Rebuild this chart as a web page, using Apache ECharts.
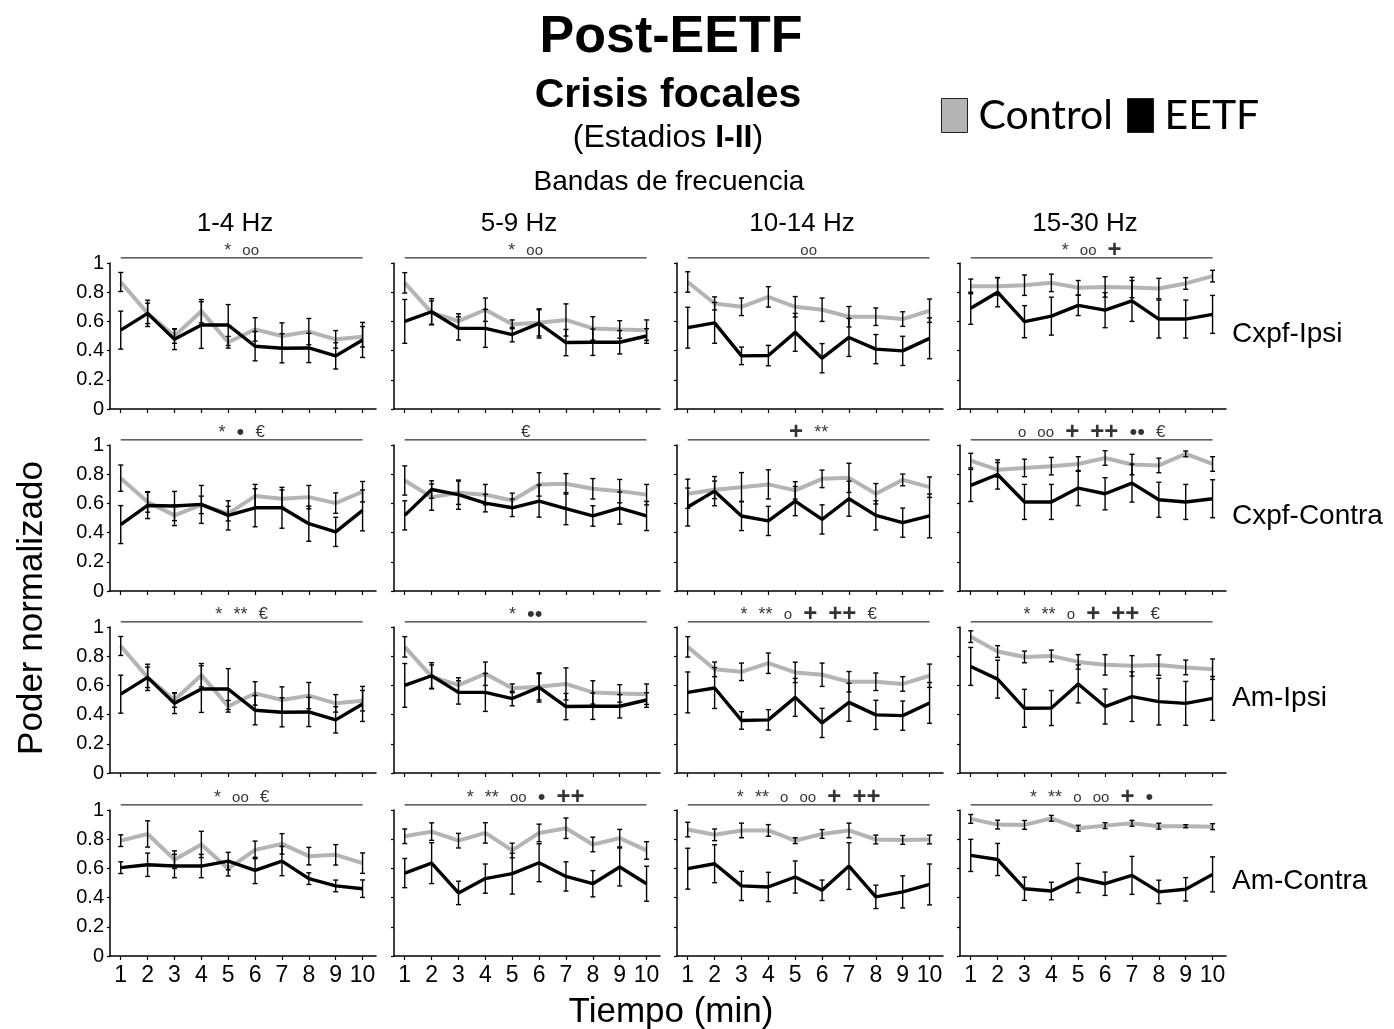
<!DOCTYPE html>
<html>
<head>
<meta charset="utf-8">
<script src="https://cdn.jsdelivr.net/npm/echarts@6/dist/echarts.min.js"></script>
<style>
  html, body { margin: 0; padding: 0; background: #fff; }
  #chart { width: 1394px; height: 1029px; }
</style>
</head>
<body>
<div id="chart"></div>
<script>
// ---- categories ----
const minutes = [1, 2, 3, 4, 5, 6, 7, 8, 9, 10];
const bands = ['1-4 Hz', '5-9 Hz', '10-14 Hz', '15-30 Hz'];
const regions = ['Cxpf-Ipsi', 'Cxpf-Contra', 'Am-Ipsi', 'Am-Contra'];

// ---- Cxpf-Ipsi (mean and SEM per band) ----
const cxIpsi1Ctl = [0.87, 0.655, 0.50, 0.67, 0.457, 0.545, 0.50, 0.53, 0.477, 0.495];
const cxIpsi1CtlSem = [0.065, 0.07, 0.05, 0.08, 0.04, 0.08, 0.09, 0.09, 0.06, 0.07];
const cxIpsi1Eetf = [0.54, 0.655, 0.477, 0.575, 0.575, 0.43, 0.416, 0.418, 0.364, 0.473];
const cxIpsi1EetfSem = [0.13, 0.09, 0.07, 0.16, 0.14, 0.10, 0.10, 0.10, 0.09, 0.12];

const cxIpsi2Ctl = [0.864, 0.66, 0.602, 0.68, 0.58, 0.59, 0.61, 0.552, 0.545, 0.54];
const cxIpsi2CtlSem = [0.07, 0.08, 0.05, 0.08, 0.03, 0.09, 0.11, 0.08, 0.06, 0.07];
const cxIpsi2Eetf = [0.60, 0.666, 0.552, 0.552, 0.51, 0.586, 0.455, 0.457, 0.457, 0.50];
const cxIpsi2EetfSem = [0.15, 0.09, 0.08, 0.13, 0.05, 0.10, 0.09, 0.09, 0.08, 0.05];

const cxIpsi3Ctl = [0.87, 0.723, 0.70, 0.768, 0.70, 0.68, 0.632, 0.632, 0.616, 0.673];
const cxIpsi3CtlSem = [0.07, 0.045, 0.06, 0.07, 0.07, 0.08, 0.07, 0.06, 0.05, 0.08];
const cxIpsi3Eetf = [0.557, 0.59, 0.364, 0.366, 0.525, 0.348, 0.49, 0.41, 0.398, 0.484];
const cxIpsi3EetfSem = [0.14, 0.14, 0.06, 0.07, 0.13, 0.10, 0.13, 0.10, 0.10, 0.14];

const cxIpsi4Ctl = [0.84, 0.84, 0.848, 0.864, 0.83, 0.836, 0.832, 0.825, 0.86, 0.91];
const cxIpsi4CtlSem = [0.05, 0.06, 0.07, 0.06, 0.05, 0.07, 0.07, 0.07, 0.04, 0.04];
const cxIpsi4Eetf = [0.69, 0.80, 0.598, 0.636, 0.71, 0.677, 0.74, 0.616, 0.616, 0.648];
const cxIpsi4EetfSem = [0.11, 0.10, 0.11, 0.13, 0.07, 0.12, 0.14, 0.13, 0.13, 0.13];

// ---- Cxpf-Contra ----
const cxContra1Ctl = [0.773, 0.61, 0.518, 0.59, 0.53, 0.65, 0.632, 0.643, 0.602, 0.68];
const cxContra1CtlSem = [0.09, 0.07, 0.07, 0.06, 0.05, 0.08, 0.06, 0.08, 0.07, 0.07];
const cxContra1Eetf = [0.455, 0.586, 0.582, 0.593, 0.518, 0.57, 0.57, 0.461, 0.405, 0.552];
const cxContra1EetfSem = [0.13, 0.09, 0.10, 0.13, 0.10, 0.13, 0.14, 0.12, 0.10, 0.14];

const cxContra2Ctl = [0.757, 0.643, 0.673, 0.66, 0.62, 0.73, 0.734, 0.70, 0.684, 0.66];
const cxContra2CtlSem = [0.10, 0.09, 0.08, 0.07, 0.05, 0.08, 0.07, 0.07, 0.08, 0.07];
const cxContra2Eetf = [0.518, 0.695, 0.66, 0.602, 0.57, 0.616, 0.564, 0.514, 0.568, 0.514];
const cxContra2EetfSem = [0.10, 0.06, 0.10, 0.06, 0.06, 0.11, 0.11, 0.07, 0.11, 0.10];

const cxContra3Ctl = [0.666, 0.693, 0.711, 0.73, 0.689, 0.768, 0.775, 0.666, 0.761, 0.711];
const cxContra3CtlSem = [0.10, 0.06, 0.10, 0.10, 0.06, 0.06, 0.10, 0.07, 0.04, 0.07];
const cxContra3Eetf = [0.575, 0.684, 0.514, 0.48, 0.616, 0.49, 0.632, 0.518, 0.468, 0.514];
const cxContra3EetfSem = [0.13, 0.10, 0.10, 0.10, 0.10, 0.10, 0.12, 0.10, 0.10, 0.15];

const cxContra4Ctl = [0.893, 0.83, 0.843, 0.855, 0.87, 0.911, 0.866, 0.86, 0.939, 0.87];
const cxContra4CtlSem = [0.05, 0.05, 0.06, 0.06, 0.05, 0.05, 0.07, 0.05, 0.02, 0.05];
const cxContra4Eetf = [0.723, 0.798, 0.61, 0.61, 0.705, 0.666, 0.739, 0.625, 0.61, 0.632];
const cxContra4EetfSem = [0.11, 0.10, 0.12, 0.12, 0.12, 0.11, 0.13, 0.12, 0.12, 0.13];

// ---- Am-Ipsi ----
const amIpsi1Ctl = [0.87, 0.655, 0.50, 0.67, 0.457, 0.545, 0.50, 0.53, 0.477, 0.495];
const amIpsi1CtlSem = [0.065, 0.07, 0.05, 0.08, 0.04, 0.08, 0.09, 0.09, 0.06, 0.07];
const amIpsi1Eetf = [0.54, 0.655, 0.477, 0.575, 0.575, 0.43, 0.416, 0.418, 0.364, 0.473];
const amIpsi1EetfSem = [0.13, 0.09, 0.07, 0.16, 0.14, 0.10, 0.10, 0.10, 0.09, 0.12];

const amIpsi2Ctl = [0.864, 0.66, 0.602, 0.68, 0.58, 0.59, 0.61, 0.552, 0.545, 0.54];
const amIpsi2CtlSem = [0.07, 0.08, 0.05, 0.08, 0.03, 0.09, 0.11, 0.08, 0.06, 0.07];
const amIpsi2Eetf = [0.60, 0.666, 0.552, 0.552, 0.51, 0.586, 0.455, 0.457, 0.457, 0.50];
const amIpsi2EetfSem = [0.15, 0.09, 0.08, 0.13, 0.05, 0.10, 0.09, 0.09, 0.08, 0.05];

const amIpsi3Ctl = [0.864, 0.71, 0.693, 0.752, 0.689, 0.673, 0.625, 0.625, 0.61, 0.666];
const amIpsi3CtlSem = [0.07, 0.05, 0.06, 0.07, 0.07, 0.08, 0.07, 0.06, 0.05, 0.08];
const amIpsi3Eetf = [0.552, 0.582, 0.36, 0.364, 0.518, 0.343, 0.484, 0.398, 0.393, 0.48];
const amIpsi3EetfSem = [0.14, 0.14, 0.06, 0.07, 0.13, 0.10, 0.13, 0.10, 0.10, 0.14];

const amIpsi4Ctl = [0.934, 0.832, 0.795, 0.802, 0.761, 0.741, 0.734, 0.739, 0.723, 0.711];
const amIpsi4CtlSem = [0.04, 0.04, 0.04, 0.04, 0.05, 0.07, 0.07, 0.07, 0.05, 0.07];
const amIpsi4Eetf = [0.73, 0.643, 0.443, 0.445, 0.61, 0.455, 0.523, 0.489, 0.477, 0.511];
const amIpsi4EetfSem = [0.13, 0.13, 0.13, 0.12, 0.13, 0.12, 0.17, 0.16, 0.15, 0.15];

// ---- Am-Contra ----
const amContra1Ctl = [0.79, 0.836, 0.66, 0.764, 0.598, 0.727, 0.768, 0.684, 0.693, 0.636];
const amContra1CtlSem = [0.04, 0.09, 0.06, 0.09, 0.05, 0.06, 0.07, 0.06, 0.07, 0.07];
const amContra1Eetf = [0.605, 0.625, 0.616, 0.616, 0.65, 0.586, 0.65, 0.53, 0.48, 0.461];
const amContra1EetfSem = [0.04, 0.08, 0.08, 0.08, 0.06, 0.09, 0.10, 0.04, 0.04, 0.06];

const amContra2Ctl = [0.82, 0.852, 0.79, 0.843, 0.723, 0.843, 0.875, 0.764, 0.807, 0.723];
const amContra2CtlSem = [0.05, 0.06, 0.05, 0.07, 0.05, 0.06, 0.07, 0.05, 0.06, 0.06];
const amContra2Eetf = [0.568, 0.636, 0.432, 0.53, 0.564, 0.639, 0.545, 0.495, 0.61, 0.495];
const amContra2EetfSem = [0.10, 0.14, 0.08, 0.10, 0.14, 0.13, 0.10, 0.09, 0.13, 0.12];

const amContra3Ctl = [0.866, 0.83, 0.86, 0.86, 0.79, 0.836, 0.86, 0.798, 0.795, 0.798];
const amContra3CtlSem = [0.05, 0.04, 0.05, 0.04, 0.02, 0.03, 0.05, 0.03, 0.03, 0.03];
const amContra3Eetf = [0.598, 0.632, 0.48, 0.473, 0.541, 0.45, 0.616, 0.405, 0.439, 0.49];
const amContra3EetfSem = [0.14, 0.13, 0.10, 0.10, 0.11, 0.07, 0.16, 0.08, 0.11, 0.14];

const amContra4Ctl = [0.939, 0.90, 0.898, 0.943, 0.875, 0.893, 0.909, 0.889, 0.889, 0.886];
const amContra4CtlSem = [0.03, 0.03, 0.03, 0.02, 0.02, 0.02, 0.02, 0.02, 0.01, 0.02];
const amContra4Eetf = [0.689, 0.661, 0.461, 0.445, 0.534, 0.495, 0.552, 0.439, 0.457, 0.559];
const amContra4EetfSem = [0.11, 0.11, 0.08, 0.06, 0.10, 0.08, 0.13, 0.08, 0.08, 0.12];

// ---- significance marks above each panel ----
const sigCxpfIpsi = ['* oo', '* oo', 'oo', '* oo +'];
const sigCxpfContra = ['* \u2022 \u20ac', '\u20ac', '+ **', 'o oo + ++ \u2022\u2022 \u20ac'];
const sigAmIpsi = ['* ** \u20ac', '* \u2022\u2022', '* ** o + ++ \u20ac', '* ** o + ++ \u20ac'];
const sigAmContra = ['* oo \u20ac', '* ** oo \u2022 ++', '* ** o oo + ++', '* ** o oo + \u2022'];

// ---- assemble panels, row by row ----
const panels = [
  [cxIpsi1Ctl, cxIpsi1CtlSem, cxIpsi1Eetf, cxIpsi1EetfSem, sigCxpfIpsi[0]],
  [cxIpsi2Ctl, cxIpsi2CtlSem, cxIpsi2Eetf, cxIpsi2EetfSem, sigCxpfIpsi[1]],
  [cxIpsi3Ctl, cxIpsi3CtlSem, cxIpsi3Eetf, cxIpsi3EetfSem, sigCxpfIpsi[2]],
  [cxIpsi4Ctl, cxIpsi4CtlSem, cxIpsi4Eetf, cxIpsi4EetfSem, sigCxpfIpsi[3]],
  [cxContra1Ctl, cxContra1CtlSem, cxContra1Eetf, cxContra1EetfSem, sigCxpfContra[0]],
  [cxContra2Ctl, cxContra2CtlSem, cxContra2Eetf, cxContra2EetfSem, sigCxpfContra[1]],
  [cxContra3Ctl, cxContra3CtlSem, cxContra3Eetf, cxContra3EetfSem, sigCxpfContra[2]],
  [cxContra4Ctl, cxContra4CtlSem, cxContra4Eetf, cxContra4EetfSem, sigCxpfContra[3]],
  [amIpsi1Ctl, amIpsi1CtlSem, amIpsi1Eetf, amIpsi1EetfSem, sigAmIpsi[0]],
  [amIpsi2Ctl, amIpsi2CtlSem, amIpsi2Eetf, amIpsi2EetfSem, sigAmIpsi[1]],
  [amIpsi3Ctl, amIpsi3CtlSem, amIpsi3Eetf, amIpsi3EetfSem, sigAmIpsi[2]],
  [amIpsi4Ctl, amIpsi4CtlSem, amIpsi4Eetf, amIpsi4EetfSem, sigAmIpsi[3]],
  [amContra1Ctl, amContra1CtlSem, amContra1Eetf, amContra1EetfSem, sigAmContra[0]],
  [amContra2Ctl, amContra2CtlSem, amContra2Eetf, amContra2EetfSem, sigAmContra[1]],
  [amContra3Ctl, amContra3CtlSem, amContra3Eetf, amContra3EetfSem, sigAmContra[2]],
  [amContra4Ctl, amContra4CtlSem, amContra4Eetf, amContra4EetfSem, sigAmContra[3]]
];

const FONT = '"Liberation Sans", Arial, Helvetica, sans-serif';
const GRAY = '#b4b4b4';
const BLACK = '#000000';

const colLefts = [110, 394, 677, 960];
const rowTops = [263, 445, 627, 810];
const panelW = 266, panelH = 146;

// vertical error bar with small caps
function errorBar(params, api) {
  const x = api.value(0);
  const lo = api.coord([x, api.value(1)]);
  const hi = api.coord([x, api.value(2)]);
  const w = 2.5;
  const st = { stroke: '#000', lineWidth: 1.4 };
  return {
    type: 'group',
    children: [
      { type: 'line', shape: { x1: lo[0], y1: lo[1], x2: hi[0], y2: hi[1] }, style: st },
      { type: 'line', shape: { x1: lo[0] - w, y1: lo[1], x2: lo[0] + w, y2: lo[1] }, style: st },
      { type: 'line', shape: { x1: hi[0] - w, y1: hi[1], x2: hi[0] + w, y2: hi[1] }, style: st }
    ]
  };
}

function sigStyleKey(tok) {
  if (tok.indexOf('+') >= 0) return 'p';
  if (tok.indexOf('\u2022') >= 0) return 'd';
  if (tok.indexOf('o') >= 0) return 'c';
  if (tok.indexOf('\u20ac') >= 0) return 'e';
  return 'a';
}
function sigText(s) {
  return s.split(' ').map(t => '{' + sigStyleKey(t) + '|' + t + '}').join('{g|    }');
}

const grid = [], xAxis = [], yAxis = [], series = [];

panels.forEach((p, i) => {
  const row = Math.floor(i / 4), col = i % 4;
  const [ctl, ctlSem, eetf, eetfSem, sig] = p;
  grid.push({ left: colLefts[col], top: rowTops[row], width: panelW, height: panelH });
  xAxis.push({
    type: 'value', gridIndex: i, min: 0.6, max: 10.5,
    splitLine: { show: false },
    axisLine: { show: true, onZero: false, lineStyle: { color: '#000', width: 1.5 } },
    axisTick: { show: true, length: 4, customValues: minutes, lineStyle: { color: '#000', width: 1.2 } },
    axisLabel: { show: row === 3, customValues: minutes, color: '#000', fontSize: 23, fontFamily: FONT, margin: 8 }
  });
  yAxis.push({
    type: 'value', gridIndex: i, min: 0, max: 1, interval: 0.2,
    splitLine: { show: false },
    axisLine: { show: true, lineStyle: { color: '#000', width: 1.5 } },
    axisTick: { show: true, length: 3, lineStyle: { color: '#000', width: 1.2 } },
    axisLabel: { show: col === 0, color: '#000', fontSize: 20, fontFamily: FONT, margin: 6 }
  });
  const ctlPts = minutes.map((m, k) => [m, ctl[k]]);
  const eetfPts = minutes.map((m, k) => [m, eetf[k]]);
  series.push({
    name: 'Control', type: 'line', xAxisIndex: i, yAxisIndex: i, data: ctlPts,
    symbol: 'none', lineStyle: { color: GRAY, width: 4 }, itemStyle: { color: GRAY }, z: 2, animation: false
  });
  series.push({
    name: 'EETF', type: 'line', xAxisIndex: i, yAxisIndex: i, data: eetfPts,
    symbol: 'none', lineStyle: { color: BLACK, width: 3.4 }, itemStyle: { color: BLACK }, z: 3, animation: false
  });
  series.push({
    type: 'custom', xAxisIndex: i, yAxisIndex: i, renderItem: errorBar, z: 4, animation: false,
    encode: { x: 0, y: [1, 2] },
    data: minutes.map((m, k) => [m, ctl[k] - ctlSem[k], ctl[k] + ctlSem[k]])
  });
  series.push({
    type: 'custom', xAxisIndex: i, yAxisIndex: i, renderItem: errorBar, z: 4, animation: false,
    encode: { x: 0, y: [1, 2] },
    data: minutes.map((m, k) => [m, eetf[k] - eetfSem[k], eetf[k] + eetfSem[k]])
  });
  // significance bar spanning minutes 1-10, just above the top of the axis
  series.push({
    type: 'line', xAxisIndex: i, yAxisIndex: i, clip: false, silent: true, animation: false,
    data: [[minutes[0], 1.035], [minutes[minutes.length - 1], 1.035]],
    symbol: 'none', lineStyle: { color: '#000', width: 1 }
  });
  series.push({
    type: 'scatter', xAxisIndex: i, yAxisIndex: i, clip: false, silent: true, animation: false,
    data: [[(minutes[0] + minutes[minutes.length - 1]) / 2, 1.085]],
    symbolSize: 0,
    label: {
      show: true, position: 'inside', formatter: () => sigText(sig),
      color: '#000', fontFamily: FONT,
      rich: {
        a: { fontSize: 18, fontFamily: FONT, color: '#000' },
        c: { fontSize: 15, fontFamily: FONT, color: '#000' },
        p: { fontSize: 24, fontFamily: FONT, fontWeight: 'bold', color: '#000' },
        d: { fontSize: 22, fontFamily: FONT, color: '#000' },
        e: { fontSize: 17, fontFamily: FONT, color: '#000' },
        g: { fontSize: 10, fontFamily: FONT }
      }
    }
  });
});

const graphic = [
  { type: 'text', x: 671, y: 38, style: { text: 'Post-EETF', font: 'bold 52px ' + FONT, fill: '#000', textAlign: 'center', textVerticalAlign: 'middle' } },
  { type: 'text', x: 668, y: 96, style: { text: 'Crisis focales', font: 'bold 41px ' + FONT, fill: '#000', textAlign: 'center', textVerticalAlign: 'middle' } },
  { type: 'text', x: 668, y: 138, style: {
      text: '{n|(Estadios }{b|I-II}{n|)}', textAlign: 'center', textVerticalAlign: 'middle',
      rich: { n: { font: '32px ' + FONT, fill: '#000' }, b: { font: 'bold 32px ' + FONT, fill: '#000' } } } },
  { type: 'text', x: 669, y: 182, style: { text: 'Bandas de frecuencia', font: '28px ' + FONT, fill: '#000', textAlign: 'center', textVerticalAlign: 'middle' } },
  { type: 'text', x: 32, y: 608, rotation: Math.PI / 2, style: { text: 'Poder normalizado', font: '35px ' + FONT, fill: '#000', textAlign: 'center', textVerticalAlign: 'middle' } },
  { type: 'text', x: 671, y: 1012, style: { text: 'Tiempo (min)', font: '35px ' + FONT, fill: '#000', textAlign: 'center', textVerticalAlign: 'middle' } }
];
bands.forEach((b, c) => {
  graphic.push({ type: 'text', x: colLefts[c] + panelW / 2 - 8, y: 224,
    style: { text: b, font: '26px ' + FONT, fill: '#000', textAlign: 'center', textVerticalAlign: 'middle' } });
});
regions.forEach((r, k) => {
  graphic.push({ type: 'text', x: 1232, y: rowTops[k] + panelH / 2 - 2,
    style: { text: r, font: '28px ' + FONT, fill: '#000', textAlign: 'left', textVerticalAlign: 'middle' } });
});

const chart = echarts.init(document.getElementById('chart'), null, { renderer: 'canvas' });
chart.setOption({
  backgroundColor: '#fff',
  animation: false,
  legend: {
    data: ['Control', 'EETF'], left: 936, top: 90, icon: 'rect',
    itemWidth: 26, itemHeight: 34, itemGap: 14,
    itemStyle: { borderColor: '#222', borderWidth: 1 },
    textStyle: { fontFamily: 'Lato, "Open Sans", sans-serif', fontSize: 41, color: '#000', padding: [0, 0, 0, 6] },
    selectedMode: false
  },
  grid, xAxis, yAxis, series, graphic
});
</script>
</body>
</html>
